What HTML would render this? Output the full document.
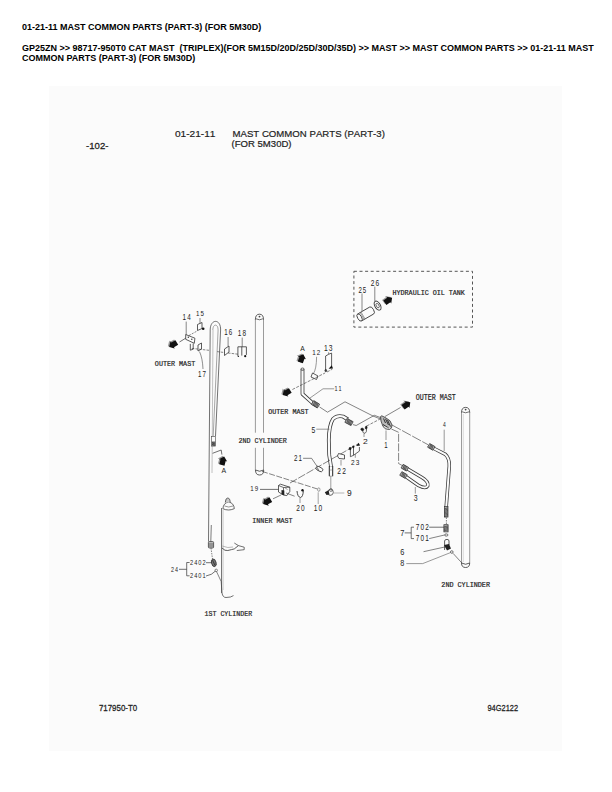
<!DOCTYPE html>
<html><head><meta charset="utf-8">
<style>
html,body{margin:0;padding:0;background:#fff;}
body{width:612px;height:792px;position:relative;overflow:hidden;font-family:"Liberation Sans",sans-serif;}
.h{position:absolute;left:22px;font-weight:bold;font-size:9px;color:#000;white-space:nowrap;line-height:10px;}
#bg{position:absolute;left:49px;top:86px;width:513px;height:665px;background:#fbfbfb;}
svg{position:absolute;left:0;top:0;}
svg text{font-family:"Liberation Sans",sans-serif;font-kerning:none;font-feature-settings:"kern" 0;}
svg text.m{font-family:"Liberation Mono",monospace;font-weight:normal;stroke:#222;stroke-width:0.2px;}
svg text.mr{font-family:"Liberation Mono",monospace;}
</style></head><body>
<div class="h" style="top:22px">01-21-11 MAST COMMON PARTS (PART-3) (FOR 5M30D)</div>
<div class="h" style="top:43px">GP25ZN &gt;&gt; 98717-950T0 CAT MAST &nbsp;(TRIPLEX)(FOR 5M15D/20D/25D/30D/35D) &gt;&gt; MAST &gt;&gt; MAST COMMON PARTS &gt;&gt; 01-21-11 MAST<br>COMMON PARTS (PART-3) (FOR 5M30D)</div>
<div id="bg"></div>
<svg width="612" height="792" viewBox="0 0 612 792">
<text transform="translate(86.07 148.60) scale(1.062 1)" font-size="9.01" fill="#222" font-weight="normal" stroke="#222" stroke-width="0.25">-102-</text>
<text transform="translate(174.90 137.40) scale(1.026 1)" font-size="9.88" fill="#222" font-weight="normal" stroke="#222" stroke-width="0.2">01-21-11</text>
<text transform="translate(232.51 137.40) scale(0.974 1)" font-size="9.88" fill="#222" font-weight="normal" stroke="#222" stroke-width="0.2">MAST COMMON PARTS (PART-3)</text>
<text transform="translate(231.61 147.20) scale(1.043 1)" font-size="9.16" fill="#222" font-weight="normal" stroke="#222" stroke-width="0.2">(FOR 5M30D)</text>
<text transform="translate(98.89 710.70) scale(0.881 1)" font-size="9.01" fill="#222" font-weight="normal" stroke="#222" stroke-width="0.25">717950-T0</text>
<text transform="translate(487.45 710.70) scale(0.826 1)" font-size="9.01" fill="#222" font-weight="normal" stroke="#222" stroke-width="0.25">94G2122</text>
<text transform="translate(392.57 294.90) scale(0.982 1)" font-size="6.83" fill="#222" font-weight="normal" class="m">HYDRAULIC OIL TANK</text>
<text transform="translate(358.39 293.00) scale(0.722 1)" font-size="8.43" fill="#222" font-weight="normal" letter-spacing="1.52">25</text>
<text transform="translate(370.77 286.00) scale(0.810 1)" font-size="8.14" fill="#222" font-weight="normal" letter-spacing="1.47">26</text>
<text transform="translate(182.52 319.60) scale(0.776 1)" font-size="8.14" fill="#222" font-weight="normal" letter-spacing="1.47">14</text>
<text transform="translate(195.93 316.00) scale(0.767 1)" font-size="7.99" fill="#222" font-weight="normal" letter-spacing="1.44">15</text>
<text transform="translate(224.33 335.30) scale(0.716 1)" font-size="8.58" fill="#222" font-weight="normal" letter-spacing="1.54">16</text>
<text transform="translate(237.81 336.00) scale(0.772 1)" font-size="8.28" fill="#222" font-weight="normal" letter-spacing="1.49">18</text>
<text transform="translate(197.93 377.00) scale(0.664 1)" font-size="9.30" fill="#222" font-weight="normal" letter-spacing="1.67">17</text>
<text transform="translate(154.86 366.00) scale(0.926 1)" font-size="7.27" fill="#222" font-weight="normal" class="m">OUTER MAST</text>
<text transform="translate(300.29 351.00) scale(0.993 1)" font-size="6.83" fill="#222" font-weight="normal" letter-spacing="1.23">A</text>
<text transform="translate(312.22 354.80) scale(0.783 1)" font-size="7.99" fill="#222" font-weight="normal" letter-spacing="1.44">12</text>
<text transform="translate(323.89 351.00) scale(0.773 1)" font-size="8.72" fill="#222" font-weight="normal" letter-spacing="1.57">13</text>
<text transform="translate(334.58 391.40) scale(0.725 1)" font-size="7.56" fill="#222" font-weight="normal" letter-spacing="1.36">11</text>
<text transform="translate(268.26 414.10) scale(0.945 1)" font-size="7.12" fill="#222" font-weight="normal" class="m">OUTER MAST</text>
<text transform="translate(415.87 400.00) scale(0.819 1)" font-size="8.14" fill="#222" font-weight="normal" class="m">OUTER MAST</text>
<text transform="translate(238.43 443.20) scale(0.845 1)" font-size="7.99" fill="#222" font-weight="normal" class="m">2ND CYLINDER</text>
<text transform="translate(311.53 433.00) scale(0.815 1)" font-size="8.28" fill="#222" font-weight="normal" letter-spacing="1.49">5</text>
<text transform="translate(362.97 443.60) scale(1.133 1)" font-size="7.56" fill="#222" font-weight="normal" letter-spacing="1.36">2</text>
<text transform="translate(384.24 448.00) scale(0.629 1)" font-size="9.59" fill="#222" font-weight="normal" letter-spacing="1.73">1</text>
<text transform="translate(442.89 427.00) scale(0.656 1)" font-size="7.56" fill="#222" font-weight="normal" letter-spacing="1.36">4</text>
<text transform="translate(293.89 461.00) scale(0.762 1)" font-size="8.14" fill="#222" font-weight="normal" letter-spacing="1.47">21</text>
<text transform="translate(337.27 473.70) scale(0.736 1)" font-size="9.01" fill="#222" font-weight="normal" letter-spacing="1.62">22</text>
<text transform="translate(351.07 464.80) scale(0.861 1)" font-size="7.56" fill="#222" font-weight="normal" letter-spacing="1.36">23</text>
<text transform="translate(221.39 472.50) scale(1.061 1)" font-size="6.54" fill="#222" font-weight="normal" letter-spacing="1.18">A</text>
<text transform="translate(250.33 491.40) scale(0.785 1)" font-size="7.85" fill="#222" font-weight="normal" letter-spacing="1.41">19</text>
<text transform="translate(296.27 510.60) scale(0.676 1)" font-size="9.59" fill="#222" font-weight="normal" letter-spacing="1.73">20</text>
<text transform="translate(313.70 510.60) scale(0.773 1)" font-size="8.58" fill="#222" font-weight="normal" letter-spacing="1.54">10</text>
<text transform="translate(347.10 496.20) scale(0.985 1)" font-size="8.58" fill="#222" font-weight="normal" letter-spacing="1.54">9</text>
<text transform="translate(413.73 501.40) scale(0.748 1)" font-size="9.30" fill="#222" font-weight="normal" letter-spacing="1.67">3</text>
<text transform="translate(252.34 523.30) scale(0.870 1)" font-size="7.70" fill="#222" font-weight="normal" class="m">INNER MAST</text>
<text transform="translate(415.67 530.40) scale(0.777 1)" font-size="8.28" fill="#222" font-weight="normal" letter-spacing="1.49">702</text>
<text transform="translate(415.67 541.00) scale(0.681 1)" font-size="9.45" fill="#222" font-weight="normal" letter-spacing="1.70">701</text>
<text transform="translate(400.22 536.00) scale(0.804 1)" font-size="9.30" fill="#222" font-weight="normal" letter-spacing="1.67">7</text>
<text transform="translate(400.23 555.00) scale(0.768 1)" font-size="9.59" fill="#222" font-weight="normal" letter-spacing="1.73">6</text>
<text transform="translate(400.29 566.40) scale(0.755 1)" font-size="9.59" fill="#222" font-weight="normal" letter-spacing="1.73">8</text>
<text transform="translate(441.32 586.70) scale(0.950 1)" font-size="7.12" fill="#222" font-weight="normal" class="m">2ND CYLINDER</text>
<text transform="translate(190.02 565.40) scale(0.717 1)" font-size="7.85" fill="#222" font-weight="normal" letter-spacing="1.41">2402</text>
<text transform="translate(190.02 578.40) scale(0.717 1)" font-size="7.85" fill="#222" font-weight="normal" letter-spacing="1.41">2401</text>
<text transform="translate(171.03 572.00) scale(0.785 1)" font-size="6.83" fill="#222" font-weight="normal" letter-spacing="1.23">24</text>
<text transform="translate(204.52 616.20) scale(0.875 1)" font-size="7.56" fill="#222" font-weight="normal" class="m">1ST CYLINDER</text>
<path d="M353.9,271.3 H472.5 V327.1 H353.9 Z" stroke="#555" stroke-width="1.0" fill="none" stroke-dasharray="3 2.6"/>
<g transform="translate(366.5 313.5) rotate(-30)"><path d="M-8,-4 H6 A2,4 0 0 1 6,4 H-8" stroke="#333" stroke-width="0.8" fill="#fbfbfb"/><ellipse cx="-8" cy="0" rx="2" ry="4" stroke="#333" stroke-width="0.8" fill="#fbfbfb"/><path d="M-5,-4 V4 M-4,-4 V4" stroke="#555" stroke-width="0.5"/></g>
<ellipse transform="translate(377.6 305.6) rotate(-30)" rx="2.8" ry="5" stroke="#3a3a3a" stroke-width="0.9" fill="none"/>
<ellipse transform="translate(377.6 305.6) rotate(-30)" rx="1.3" ry="2.4" stroke="#3a3a3a" stroke-width="0.7" fill="none"/>
<path d="M362,293.5 V311" stroke="#555" stroke-width="0.7" fill="none"/>
<path d="M374.8,286.6 V301" stroke="#555" stroke-width="0.7" fill="none"/>
<g transform="translate(387.20 299.60) rotate(-35) scale(1.0)"><path d="M-4.4,-2.7 L0.4,-2.7 L0.4,-4.2 L4.4,0 L0.4,4.2 L0.4,2.7 L-4.4,2.7 Z" fill="#9a9a9a"/></g>
<g transform="translate(388.5 300.3) rotate(-35) scale(1.0)"><path d="M-4.4,-2.7 L0.4,-2.7 L0.4,-4.2 L4.4,0 L0.4,4.2 L0.4,2.7 L-4.4,2.7 Z" fill="#111"/></g>
<g transform="translate(171.70 344.00) rotate(150) scale(1.0)"><path d="M-4.4,-2.7 L0.4,-2.7 L0.4,-4.2 L4.4,0 L0.4,4.2 L0.4,2.7 L-4.4,2.7 Z" fill="#9a9a9a"/></g>
<g transform="translate(173 344.7) rotate(150) scale(1.0)"><path d="M-4.4,-2.7 L0.4,-2.7 L0.4,-4.2 L4.4,0 L0.4,4.2 L0.4,2.7 L-4.4,2.7 Z" fill="#111"/></g>
<path d="M179.5,342 L186,338" stroke="#333" stroke-width="0.7" fill="none"/>
<path d="M185.7,334.5 L194.9,338.2 L194.3,343.3 L185.7,339.3 Z" stroke="#333" stroke-width="0.8" fill="#fbfbfb"/>
<circle cx="188.3" cy="337.2" r="0.7" fill="#333"/>
<circle cx="191.8" cy="339.3" r="0.7" fill="#333"/>
<path d="M190.3,343.9 V350.2 L193.2,349.2 V343.5" stroke="#333" stroke-width="0.8" fill="none"/>
<path d="M186.2,321.6 V335" stroke="#555" stroke-width="0.7" fill="none"/>
<path d="M197.5,330.5 V324.5 L202,322.5 V328.5 Z" stroke="#333" stroke-width="0.8" fill="#fbfbfb"/>
<circle cx="203.2" cy="328.8" r="1.3" fill="#111"/>
<path d="M200,318 V323.5" stroke="#555" stroke-width="0.7" fill="none"/>
<path d="M189,335.5 L197.5,330.8" stroke="#333" stroke-width="0.6" fill="none" stroke-dasharray="2 1.2"/>
<path d="M198,351 V345 L201.5,343 V349 Z" stroke="#333" stroke-width="0.8" fill="#fbfbfb"/>
<path d="M199.5,351.6 Q202.5,358 203,369" stroke="#444" stroke-width="0.6" fill="none"/>
<path d="M191.8,348.4 L209,350.3 M217,351.6 L237.9,354.2" stroke="#333" stroke-width="0.6" fill="none" stroke-dasharray="2.5 1.2"/>
<path d="M224.5,355.5 V349 L229,346 V352 Z" stroke="#333" stroke-width="0.8" fill="#fbfbfb"/>
<path d="M228.1,337 V346.4" stroke="#555" stroke-width="0.7" fill="none"/>
<path d="M237.9,356.2 V346.8 H246.4 V354.9 M241.8,346.8 V355.6" stroke="#333" stroke-width="0.8" fill="none"/>
<circle cx="245.2" cy="356.2" r="1.1" fill="#111"/>
<circle cx="238.4" cy="356.4" r="0.7" fill="#333"/>
<path d="M242.2,337.6 V347" stroke="#555" stroke-width="0.7" fill="none"/>
<path d="M208.5,541.5 L210.2,330 C210.2,318.5 221,318.5 220.6,330 L215.5,436" stroke="#444" stroke-width="0.75" fill="none"/>
<path d="M212.8,330 C212.8,323.5 218.2,323.5 218.1,330 L213.2,436" stroke="#777" stroke-width="0.65" fill="none"/>
<path d="M213,330 L212.2,448 L212,473" stroke="#999" stroke-width="0.6" fill="none"/>
<path d="M211.3,525 L210.8,541.5" stroke="#444" stroke-width="0.7" fill="none"/>
<rect x="211.4" y="436.3" width="4.2" height="9.8" fill="#fbfbfb" stroke="#444" stroke-width="0.6"/>
<rect x="211.6" y="441.5" width="3.8" height="4.4" fill="#666"/>
<path d="M212.2,442.5 l2.5,1.5 M212.2,444.3 l2.5,1.3" stroke="#222" stroke-width="0.5" fill="none"/>
<path d="M212.6,453.3 L221.2,450 L221.9,454.6" stroke="#333" stroke-width="0.7" fill="none"/>
<g transform="translate(221.70 460.00) rotate(-75) scale(1.0)"><path d="M-4.4,-2.7 L0.4,-2.7 L0.4,-4.2 L4.4,0 L0.4,4.2 L0.4,2.7 L-4.4,2.7 Z" fill="#9a9a9a"/></g>
<g transform="translate(223 460.7) rotate(-75) scale(1.0)"><path d="M-4.4,-2.7 L0.4,-2.7 L0.4,-4.2 L4.4,0 L0.4,4.2 L0.4,2.7 L-4.4,2.7 Z" fill="#111"/></g>
<rect x="208.4" y="541.5" width="5.2" height="6.5" rx="1" fill="#bbb" stroke="#333" stroke-width="0.7"/>
<path d="M208.6,544 H213.4 M208.6,546 H213.4" stroke="#222" stroke-width="0.5" fill="none"/>
<path d="M211,548 L212.5,559" stroke="#333" stroke-width="0.6" fill="none" stroke-dasharray="1.5 1"/>
<ellipse transform="translate(213.8 562.8) rotate(-15)" rx="2.3" ry="3.9" stroke="#222" stroke-width="0.7" fill="#777"/>
<path d="M212.5,560 L215,565.5" stroke="#111" stroke-width="0.6" fill="none"/>
<ellipse transform="translate(216.2 570.4) rotate(0)" rx="1.3" ry="1.3" stroke="#444" stroke-width="0.6" fill="none"/>
<path d="M206,562.7 H211.4" stroke="#333" stroke-width="0.7" fill="none"/>
<path d="M206,576 Q212,575 215.5,571" stroke="#333" stroke-width="0.7" fill="none"/>
<path d="M179,569.3 H186.7 M189.6,562.5 H186.7 V575.8 H189.6" stroke="#333" stroke-width="0.7" fill="none"/>
<path d="M216.5,571.5 L221.2,581.6 L222,593" stroke="#333" stroke-width="0.6" fill="none"/>
<path d="M221.6,508 V593" stroke="#444" stroke-width="0.8" fill="none"/>
<path d="M223.2,510 V590" stroke="#aaa" stroke-width="0.5" fill="none"/>
<path d="M222,593 Q222.8,597.5 226,597.5 Q231,597.5 233.5,595.6" stroke="#333" stroke-width="0.7" fill="none"/>
<path d="M222.9,508.7 Q223.3,503 228.6,502 Q234,503 234.3,508.7 Q231,510 228.6,510 Q225.5,510 222.9,508.7 Z" stroke="#444" stroke-width="0.8" fill="#fbfbfb"/>
<path d="M225.3,502.5 Q225.5,498 227.7,498 Q230,498 230.2,502.5" stroke="#444" stroke-width="0.8" fill="#ccc"/>
<path d="M224.5,506 Q228.6,508 233,506" stroke="#555" stroke-width="0.6" fill="none"/>
<path d="M222,548 Q225,551.2 227.8,550.5 Q232,549.5 234.3,548.9 L238.4,545.6" stroke="#333" stroke-width="0.8" fill="none"/>
<path d="M234.3,543 L238.4,545.6 L244.2,547.2 M236.8,550.5 L244.2,549.7 L244.2,547.2" stroke="#333" stroke-width="0.7" fill="none"/>
<path d="M222.3,546 Q228,548.5 233,547" stroke="#777" stroke-width="0.5" fill="none"/>
<path d="M255.4,319 V432.7 M255.4,447.8 V470 M263.5,319 V432.7 M263.5,447.8 V470" stroke="#666" stroke-width="0.65" fill="none"/>
<path d="M255.4,319.5 Q255.4,314.2 259.45,314.2 Q263.5,314.2 263.5,319.5" stroke="#333" stroke-width="0.8" fill="none"/>
<path d="M256,318.8 Q259.45,320.8 262.9,318.8" stroke="#333" stroke-width="0.7" fill="none"/>
<circle cx="259.5" cy="316.6" r="0.9" fill="#444"/>
<path d="M255.5,470 Q255.5,475 259.6,475 Q263.7,475 263.7,470 Q259.6,472.5 255.5,470" stroke="#333" stroke-width="0.8" fill="none"/>
<path d="M461.5,412 V563 M469.7,412 V563" stroke="#666" stroke-width="0.65" fill="none"/>
<path d="M463.3,414 V562" stroke="#bbb" stroke-width="0.5" fill="none"/>
<path d="M461.5,412.5 Q461.5,407.4 465.6,407.4 Q469.7,407.4 469.7,412.5" stroke="#333" stroke-width="0.8" fill="none"/>
<path d="M462.1,411.8 Q465.6,413.8 469.1,411.8" stroke="#333" stroke-width="0.7" fill="none"/>
<circle cx="465.6" cy="409.6" r="0.9" fill="#444"/>
<path d="M461.5,563 Q461.5,567.5 465.6,567.5 Q469.7,567.5 469.7,563 Q465.6,565.5 461.5,563" stroke="#333" stroke-width="0.8" fill="none"/>
<g transform="translate(300.50 357.60) rotate(-70) scale(1.0)"><path d="M-4.4,-2.7 L0.4,-2.7 L0.4,-4.2 L4.4,0 L0.4,4.2 L0.4,2.7 L-4.4,2.7 Z" fill="#9a9a9a"/></g>
<g transform="translate(301.8 358.3) rotate(-70) scale(1.0)"><path d="M-4.4,-2.7 L0.4,-2.7 L0.4,-4.2 L4.4,0 L0.4,4.2 L0.4,2.7 L-4.4,2.7 Z" fill="#111"/></g>
<path d="M302.5,369.5 V394 L312.7,403.2 L316,405" stroke="#3a3a3a" stroke-width="3.8" fill="none" stroke-linejoin="round"/>
<path d="M302.5,369.5 V394 L312.7,403.2 L316,405" stroke="#fbfbfb" stroke-width="2.2" fill="none" stroke-linejoin="round"/>
<ellipse transform="translate(302.5 369.2) rotate(0)" rx="1.6" ry="1.2" stroke="#3a3a3a" stroke-width="0.8" fill="none"/>
<g transform="translate(315.5 404.3) rotate(32)"><rect x="-3.5" y="-2.2" width="7" height="4.4" fill="#aaa" stroke="#333" stroke-width="0.7"/><path d="M-2.20,-2.2 l0.9,4.4 M-0.90,-2.2 l0.9,4.4 M0.40,-2.2 l0.9,4.4 M1.70,-2.2 l0.9,4.4" stroke="#222" stroke-width="0.55"/></g>
<path d="M310,398 L323,388.8 H334.2" stroke="#555" stroke-width="0.6" fill="none"/>
<path d="M316.6,356.8 Q316.5,369 313.3,373.8" stroke="#555" stroke-width="0.6" fill="none"/>
<path d="M311,377 L312.5,373 L318,376 L316.5,379.5 Z" stroke="#333" stroke-width="0.8" fill="#fbfbfb"/>
<path d="M325.6,370.6 V356 L328.6,354.3 L331.6,353.1 V366" stroke="#333" stroke-width="0.8" fill="none"/>
<path d="M328.6,352.3 V354.3" stroke="#444" stroke-width="0.6" fill="none"/>
<path d="M328.6,368.8 L331.8,365.3 L333,368.4 Z" fill="#111"/>
<ellipse transform="translate(325.8 370.6) rotate(0)" rx="0.9" ry="1.2" stroke="#222" stroke-width="0.6" fill="#444"/>
<path d="M292.4,389.5 L325,373 M327,372 L332.3,369.2" stroke="#333" stroke-width="0.6" fill="none" stroke-dasharray="3 1.3"/>
<g transform="translate(285.20 392.00) rotate(150) scale(1.0)"><path d="M-4.4,-2.7 L0.4,-2.7 L0.4,-4.2 L4.4,0 L0.4,4.2 L0.4,2.7 L-4.4,2.7 Z" fill="#9a9a9a"/></g>
<g transform="translate(286.5 392.7) rotate(150) scale(1.0)"><path d="M-4.4,-2.7 L0.4,-2.7 L0.4,-4.2 L4.4,0 L0.4,4.2 L0.4,2.7 L-4.4,2.7 Z" fill="#111"/></g>
<path d="M319.6,407 L327.5,412.2 L345,401.8 L373.2,416.1 L381,419.2" stroke="#333" stroke-width="0.6" fill="none"/>
<path d="M331,466.5 L329.2,455 L328.8,440 Q329,425 333,419 Q337,415 343,416.5 L348,419.5" stroke="#3a3a3a" stroke-width="3.8" fill="none" stroke-linejoin="round"/>
<path d="M331,466.5 L329.2,455 L328.8,440 Q329,425 333,419 Q337,415 343,416.5 L348,419.5" stroke="#fbfbfb" stroke-width="2.2" fill="none" stroke-linejoin="round"/>
<g transform="translate(349 422) rotate(28)"><rect x="-3.5" y="-2.2" width="7" height="4.4" fill="#aaa" stroke="#333" stroke-width="0.7"/><path d="M-2.20,-2.2 l0.9,4.4 M-0.90,-2.2 l0.9,4.4 M0.40,-2.2 l0.9,4.4 M1.70,-2.2 l0.9,4.4" stroke="#222" stroke-width="0.55"/></g>
<path d="M353,424.6 L356.2,425.5 L374.4,415.3 L381.6,418" stroke="#333" stroke-width="0.6" fill="none"/>
<path d="M316.3,429.2 H329.4" stroke="#555" stroke-width="0.6" fill="none"/>
<rect x="329.1" y="467" width="3.8" height="9.2" fill="#fbfbfb"/>
<path d="M329.3,466 V476.2 M332.7,466 V476.2" stroke="#222" stroke-width="1.0" fill="none"/>
<path d="M329.3,470 H332.7 M329.3,476.2 H332.7" stroke="#666" stroke-width="0.5" fill="none"/>
<path d="M330.8,476.2 V488.3" stroke="#777" stroke-width="0.7" fill="none"/>
<path d="M327.5,492.5 Q328,489.2 331,489 Q333.3,489.5 333.3,492.5 Q333,495.4 330,495.4 Q327.8,495 327.5,492.5 Z" stroke="#444" stroke-width="0.8" fill="#fbfbfb"/>
<ellipse transform="translate(330.9 490) rotate(0)" rx="1.4" ry="1.4" stroke="#444" stroke-width="0.7" fill="none"/>
<path d="M324.8,492.3 L328.5,490.3 L329.5,494.6 L326.5,495 Z" fill="#222"/>
<path d="M333.3,493 H344.3" stroke="#999" stroke-width="0.7" fill="none"/>
<path d="M362.5,430.5 Q362.8,433.6 365,433.4 Q366.8,432.5 366.6,428.5" stroke="#444" stroke-width="0.8" fill="none"/>
<ellipse transform="translate(362.3 429.4) rotate(20)" rx="1.5" ry="1.3" stroke="#111" stroke-width="0.5" fill="#1a1a1a"/>
<ellipse transform="translate(366.2 427.6) rotate(10)" rx="0.9" ry="1.5" stroke="#111" stroke-width="0.5" fill="#1a1a1a"/>
<path d="M364,433.8 V437" stroke="#555" stroke-width="0.6" fill="none"/>
<path d="M366.7,426 L382,418" stroke="#333" stroke-width="0.6" fill="none" stroke-dasharray="3 1.3"/>
<path d="M380.6,416.5 L381.8,415.8 L386,418 Q391,420 392,425 Q392.3,428.5 389.5,429.5 Q385,429.8 383,426.5 L381,421 Z" stroke="#333" stroke-width="0.8" fill="#bbb"/>
<path d="M383.5,418.5 L385.5,423 M385.5,418.8 L388.5,425 M387.5,420 L390.5,426.5 M383,424.5 L389,428.2" stroke="#222" stroke-width="0.9" fill="none"/>
<path d="M384,426.5 Q387,429 390,428" stroke="#fbfbfb" stroke-width="0.7" fill="none"/>
<path d="M384.8,416.6 L400.5,407.5" stroke="#333" stroke-width="0.6" fill="none"/>
<g transform="translate(405.40 404.10) rotate(-35) scale(1.0)"><path d="M-4.4,-2.7 L0.4,-2.7 L0.4,-4.2 L4.4,0 L0.4,4.2 L0.4,2.7 L-4.4,2.7 Z" fill="#9a9a9a"/></g>
<g transform="translate(406.7 404.8) rotate(-35) scale(1.0)"><path d="M-4.4,-2.7 L0.4,-2.7 L0.4,-4.2 L4.4,0 L0.4,4.2 L0.4,2.7 L-4.4,2.7 Z" fill="#111"/></g>
<path d="M386,430.5 V440" stroke="#555" stroke-width="0.6" fill="none"/>
<path d="M392,425 L428,444.7" stroke="#333" stroke-width="0.6" fill="none" stroke-dasharray="10 1.5"/>
<path d="M391.4,429 L398.6,432.3 V463.5 L403,466" stroke="#333" stroke-width="0.6" fill="none" stroke-dasharray="8 1.5"/>
<path d="M406,468 L422,477.5 Q428.8,481.5 427.8,485.8 Q425.8,489.3 418.5,485.5 L405,476" stroke="#3a3a3a" stroke-width="3.4" fill="none" stroke-linejoin="round"/>
<path d="M406,468 L422,477.5 Q428.8,481.5 427.8,485.8 Q425.8,489.3 418.5,485.5 L405,476" stroke="#fbfbfb" stroke-width="1.9" fill="none" stroke-linejoin="round"/>
<g transform="translate(404.8 467.7) rotate(30)"><rect x="-3.1" y="-2.1" width="6.2" height="4.2" fill="#aaa" stroke="#333" stroke-width="0.7"/><path d="M-1.80,-2.1 l0.9,4.2 M-0.50,-2.1 l0.9,4.2 M0.80,-2.1 l0.9,4.2" stroke="#222" stroke-width="0.55"/></g>
<g transform="translate(403.5 475) rotate(30)"><rect x="-3.1" y="-2.1" width="6.2" height="4.2" fill="#aaa" stroke="#333" stroke-width="0.7"/><path d="M-1.80,-2.1 l0.9,4.2 M-0.50,-2.1 l0.9,4.2 M0.80,-2.1 l0.9,4.2" stroke="#222" stroke-width="0.55"/></g>
<path d="M415.3,487 V493.6" stroke="#555" stroke-width="0.6" fill="none"/>
<path d="M433,448 L445.4,454.4 Q449.5,458 449.3,466 L448,483 L446.2,507" stroke="#3a3a3a" stroke-width="3.5" fill="none" stroke-linejoin="round"/>
<path d="M433,448 L445.4,454.4 Q449.5,458 449.3,466 L448,483 L446.2,507" stroke="#fbfbfb" stroke-width="2.0" fill="none" stroke-linejoin="round"/>
<g transform="translate(431.3 446.9) rotate(30)"><rect x="-3.1" y="-2.1" width="6.2" height="4.2" fill="#aaa" stroke="#333" stroke-width="0.7"/><path d="M-1.80,-2.1 l0.9,4.2 M-0.50,-2.1 l0.9,4.2 M0.80,-2.1 l0.9,4.2" stroke="#222" stroke-width="0.55"/></g>
<g transform="translate(446.2 511.8) rotate(90)"><rect x="-5.25" y="-1.8" width="10.5" height="3.6" fill="#aaa" stroke="#333" stroke-width="0.7"/><path d="M-3.95,-1.8 l0.9,3.6 M-2.65,-1.8 l0.9,3.6 M-1.35,-1.8 l0.9,3.6 M-0.05,-1.8 l0.9,3.6 M1.25,-1.8 l0.9,3.6 M2.55,-1.8 l0.9,3.6 M3.85,-1.8 l0.9,3.6" stroke="#222" stroke-width="0.55"/></g>
<path d="M444.2,429.7 V451" stroke="#555" stroke-width="0.6" fill="none"/>
<path d="M446.4,517.5 V524.7" stroke="#333" stroke-width="0.6" fill="none" stroke-dasharray="1.5 1"/>
<g transform="translate(446 528.3) rotate(90)"><rect x="-3.6" y="-2.1" width="7.2" height="4.2" fill="#aaa" stroke="#333" stroke-width="0.7"/><path d="M-2.30,-2.1 l0.9,4.2 M-1.00,-2.1 l0.9,4.2 M0.30,-2.1 l0.9,4.2 M1.60,-2.1 l0.9,4.2" stroke="#222" stroke-width="0.55"/></g>
<path d="M429.2,527.2 H444" stroke="#333" stroke-width="0.7" fill="none"/>
<ellipse transform="translate(446.3 535) rotate(0)" rx="1.7" ry="1.1" stroke="#3a3a3a" stroke-width="0.7" fill="none"/>
<path d="M429.2,538.6 L444.5,535" stroke="#333" stroke-width="0.6" fill="none"/>
<path d="M404.7,532.9 H411.2 M414,527.2 H411.2 V538.6 H414" stroke="#333" stroke-width="0.7" fill="none"/>
<path d="M444.6,550 V541 Q444.6,539.4 447,539.4 Q449,539.4 449,541 V545" stroke="#333" stroke-width="0.8" fill="#fbfbfb"/>
<path d="M444,545 L449,544 L451,548.5 L447,550.5 Z" fill="#222"/>
<path d="M423.5,551.7 L445.6,546.8" stroke="#333" stroke-width="0.6" fill="none"/>
<ellipse transform="translate(451.8 552) rotate(0)" rx="1.3" ry="1.3" stroke="#3a3a3a" stroke-width="0.7" fill="none"/>
<path d="M406.3,563.6 H422.7 L450.5,552.6" stroke="#555" stroke-width="0.6" fill="none"/>
<path d="M453,553.3 L461.9,563" stroke="#333" stroke-width="0.6" fill="none"/>
<path d="M278.5,485.5 L280.5,484.2 L289.8,487.2 V491.5 L286.8,495.6 L283.5,495 L278.5,492 Z" stroke="#333" stroke-width="0.8" fill="#fbfbfb"/>
<path d="M278.5,485.5 L283.5,487.5 V495 M283.5,487.5 L289.8,487.2" stroke="#333" stroke-width="0.7" fill="none"/>
<path d="M281.5,490 L284.3,490.6 V495.2 L281.5,494.5 Z" fill="#222"/>
<path d="M284.5,487.5 L287.5,489.5" stroke="#555" stroke-width="0.6" fill="none"/>
<path d="M262,471.4 L317.5,489" stroke="#333" stroke-width="0.6" fill="none" stroke-dasharray="6 1.5"/>
<path d="M290,483 L358,444" stroke="#333" stroke-width="0.6" fill="none" stroke-dasharray="8 1.5"/>
<path d="M260,489.4 H278.3" stroke="#333" stroke-width="0.7" fill="none"/>
<path d="M297,491 Q297.5,497 300.5,497.5 Q303,497 303.3,491" stroke="#333" stroke-width="0.9" fill="none"/>
<circle cx="302.5" cy="490.3" r="1.2" fill="#111"/>
<path d="M286,493 L294.6,496.2" stroke="#333" stroke-width="0.6" fill="none"/>
<path d="M300,498 V503" stroke="#555" stroke-width="0.6" fill="none"/>
<g transform="translate(265.70 501.10) rotate(150) scale(1.0)"><path d="M-4.4,-2.7 L0.4,-2.7 L0.4,-4.2 L4.4,0 L0.4,4.2 L0.4,2.7 L-4.4,2.7 Z" fill="#9a9a9a"/></g>
<g transform="translate(267 501.8) rotate(150) scale(1.0)"><path d="M-4.4,-2.7 L0.4,-2.7 L0.4,-4.2 L4.4,0 L0.4,4.2 L0.4,2.7 L-4.4,2.7 Z" fill="#111"/></g>
<path d="M273,498.8 L281,495" stroke="#333" stroke-width="0.6" fill="none"/>
<rect transform="translate(319.4 469) rotate(28)" x="-3.6" y="-1.9" width="7.2" height="3.8" rx="1.9" fill="#fbfbfb" stroke="#333" stroke-width="0.8"/>
<path d="M317.2,467.3 L318.6,470.3" stroke="#333" stroke-width="0.7" fill="none"/>
<path d="M303.1,458.3 H311.6 L317.5,467" stroke="#333" stroke-width="0.6" fill="none"/>
<path d="M337.5,456 L338.5,453.5 L344.5,455 V459 L339,458.5 Z" stroke="#333" stroke-width="0.8" fill="#fbfbfb"/>
<path d="M341,460 V465.5" stroke="#555" stroke-width="0.6" fill="none"/>
<path d="M350.4,448.3 V456.7 L353.5,455.3 L359.4,451.1 V447 M353.5,446.6 V455.3" stroke="#333" stroke-width="0.75" fill="none"/>
<ellipse transform="translate(350.1 448.6) rotate(0)" rx="1.1" ry="1.3" stroke="#111" stroke-width="0.4" fill="#1a1a1a"/>
<ellipse transform="translate(353.3 446.8) rotate(0)" rx="0.9" ry="1.1" stroke="#111" stroke-width="0.4" fill="#1a1a1a"/>
<path d="M356.3,445.9 L358.6,442.8 L360.1,445.6 Z" fill="#111"/>
<path d="M355.3,454 V457.8" stroke="#555" stroke-width="0.6" fill="none"/>
<ellipse transform="translate(318.8 489.6) rotate(0)" rx="1.2" ry="1.8" stroke="#666" stroke-width="0.6" fill="none"/>
<path d="M318.2,492.3 V504" stroke="#666" stroke-width="0.6" fill="none"/>
</svg>
</body></html>
